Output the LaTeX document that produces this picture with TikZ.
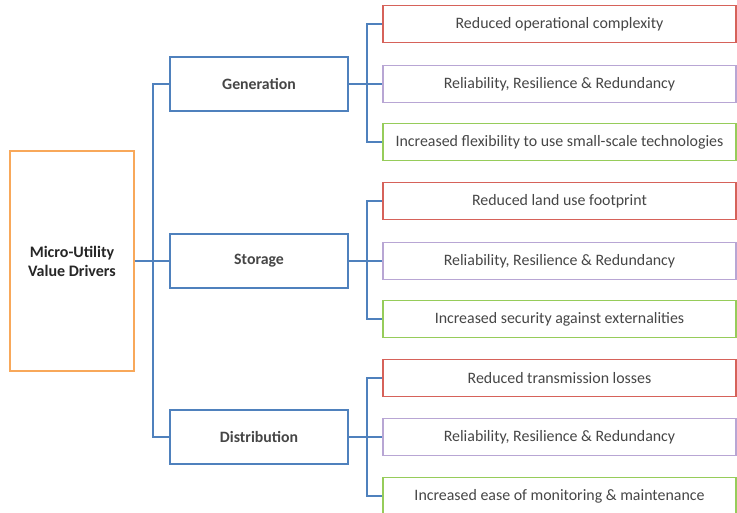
\documentclass[tikz,border=0pt]{standalone}
\usepackage{fontspec}
\setmainfont{Carlito}
\usepackage{xcolor}
\definecolor{linkblue}{RGB}{79,129,189}
\definecolor{rootorange}{RGB}{248,168,90}
\definecolor{leafred}{RGB}{214,98,90}
\definecolor{leafpurple}{RGB}{184,166,212}
\definecolor{leafgreen}{RGB}{150,204,90}
\definecolor{txtgray}{RGB}{70,70,70}

\begin{document}
\begin{tikzpicture}[x=1pt,y=-1pt,line width=1.6pt,
  rootbox/.style={draw=rootorange, fill=white, minimum width=124pt, minimum height=220pt, font=\fontsize{16}{19}\selectfont\bfseries, align=center, text=black!85},
  drvbox/.style={draw=linkblue, fill=white, minimum width=178pt, minimum height=54pt, font=\fontsize{15.8}{19}\selectfont\bfseries, text=txtgray},
  leafbox/.style={draw, fill=white, minimum width=353pt, minimum height=37pt, font=\fontsize{15.9}{19}\selectfont, text=txtgray},
  link/.style={draw=linkblue}]
  \useasboundingbox (0,0) rectangle (737,512);

  \node (root) [rootbox] at (72,261) {Micro-Utility\\Value Drivers};

  \node (gen) [drvbox] at (259,84) {Generation};
  \node (sto) [drvbox] at (259,261) {Storage};
  \node (dis) [drvbox] at (259,437) {Distribution};

  \node (g1) [leafbox, draw=leafred]    at (559.5,24)  {Reduced operational complexity};
  \node (g2) [leafbox, draw=leafpurple] at (559.5,84)  {Reliability, Resilience \& Redundancy};
  \node (g3) [leafbox, draw=leafgreen]  at (559.5,142) {Increased flexibility to use small-scale technologies};
  \node (s1) [leafbox, draw=leafred]    at (559.5,201) {Reduced land use footprint};
  \node (s2) [leafbox, draw=leafpurple] at (559.5,261) {Reliability, Resilience \& Redundancy};
  \node (s3) [leafbox, draw=leafgreen]  at (559.5,319) {Increased security against externalities};
  \node (d1) [leafbox, draw=leafred]    at (559.5,378) {Reduced transmission losses};
  \node (d2) [leafbox, draw=leafpurple] at (559.5,437) {Reliability, Resilience \& Redundancy};
  \node (d3) [leafbox, draw=leafgreen]  at (559.5,496) {Increased ease of monitoring \& maintenance};

  % root to drivers
  \draw[link] (root.east) -- ++(18,0) |- (gen.west);
  \draw[link] (root.east) -- (sto.west);
  \draw[link] (root.east) -- ++(18,0) |- (dis.west);

  % drivers to leaves
  \draw[link] (gen.east) -- ++(18,0) |- (g1.west);
  \draw[link] (gen.east) -- (g2.west);
  \draw[link] (gen.east) -- ++(18,0) |- (g3.west);
  \draw[link] (sto.east) -- ++(18,0) |- (s1.west);
  \draw[link] (sto.east) -- (s2.west);
  \draw[link] (sto.east) -- ++(18,0) |- (s3.west);
  \draw[link] (dis.east) -- ++(18,0) |- (d1.west);
  \draw[link] (dis.east) -- (d2.west);
  \draw[link] (dis.east) -- ++(18,0) |- (d3.west);
\end{tikzpicture}
\end{document}
